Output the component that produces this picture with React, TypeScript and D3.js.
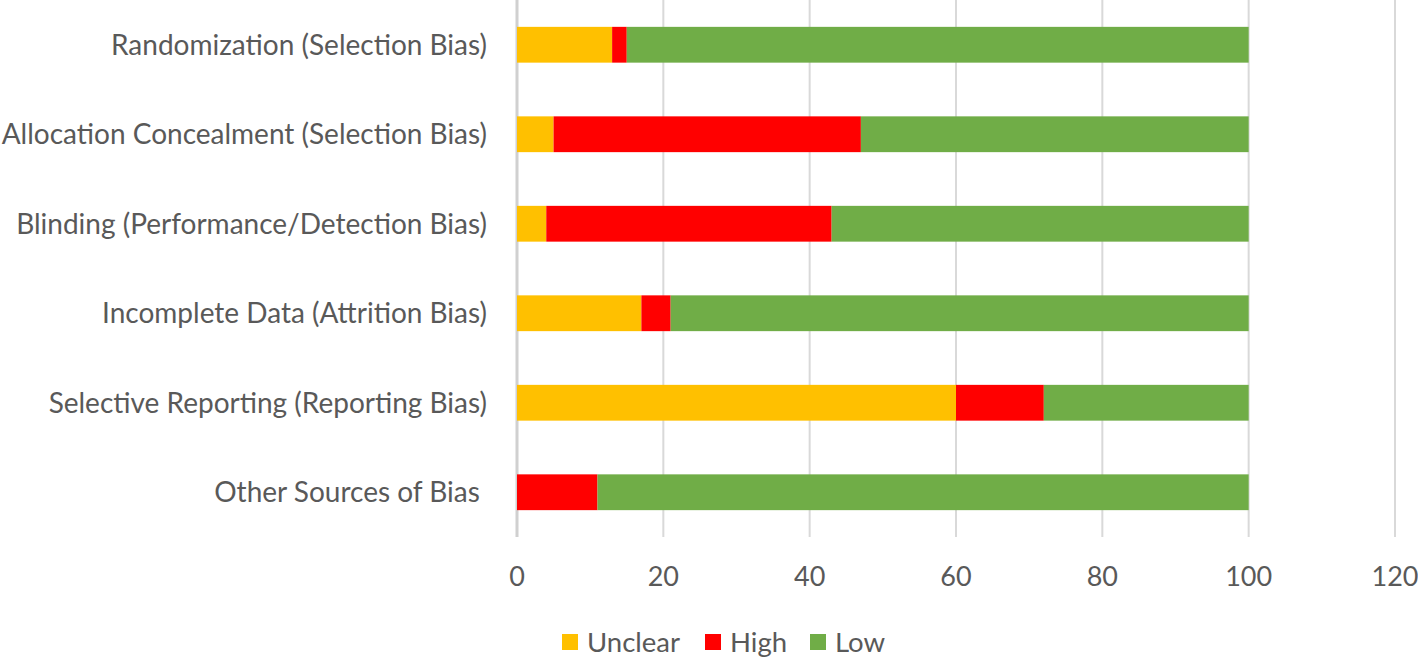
import React from "react";
import * as d3 from "d3";

const categories = [
  "Randomization (Selection Bias)",
  "Allocation Concealment (Selection Bias)",
  "Blinding (Performance/Detection Bias)",
  "Incomplete Data (Attrition Bias)",
  "Selective Reporting (Reporting Bias)",
  "Other Sources of Bias ",
];
const seriesNames = ["Unclear", "High", "Low"];
const unclear = [13, 5, 4, 17, 60, 0];
const high = [2, 42, 39, 4, 12, 11];
const low = [85, 53, 57, 79, 28, 89];
const xTicks = [0, 20, 40, 60, 80, 100, 120];
const colors = ["#FFC000", "#FF0000", "#70AD47"];

const W = 1418;
const H = 657;
const FONT = "Lato, 'Open Sans', sans-serif";

export default function App() {
  const x = d3.scaleLinear().domain([0, 120]).range([517, 1395]);
  const y = d3.scaleBand().domain(categories).range([0, 537]).paddingInner(0.6).paddingOuter(0.3);
  const rows = categories.map((c, i) => ({ c, vals: [unclear[i], high[i], low[i]] }));
  const stack = d3.stack<any>().keys(["0", "1", "2"]).value((d: any, k: string) => d.vals[+k]);
  const layers = stack(rows as any);
  const legendItems = [
    { x: 562 },
    { x: 705 },
    { x: 810 },
  ];
  return (
    <svg width={W} height={H} style={{ position: "absolute", left: 0, top: 0 }} fontFamily={FONT}>
      {xTicks.map((t) => (
        <line key={t} x1={x(t)} x2={x(t)} y1={0} y2={537} stroke={t === 0 ? "#d0d0d0" : "#d9d9d9"} strokeWidth={t === 0 ? 3 : 2} />
      ))}
      {layers.map((layer, li) =>
        layer.map((d, i) => (
          <rect key={`${li}-${i}`} x={x(d[0])} y={y(categories[i])!} width={Math.max(0, x(d[1]) - x(d[0]))} height={y.bandwidth()} fill={colors[li]} />
        ))
      )}
      {categories.map((c) => (
        <text key={c} x={487} y={y(c)! + y.bandwidth() / 2} dy="0.35em" textAnchor="end" fontSize={28} fill="#595959" style={{ whiteSpace: "pre" }}>
          {c}
        </text>
      ))}
      {xTicks.map((t) => (
        <text key={t} x={x(t)} y={577} dy="0.35em" textAnchor="middle" fontSize={27} fill="#595959">
          {t}
        </text>
      ))}
      {seriesNames.map((s, i) => (
        <g key={s}>
          <rect x={legendItems[i].x} y={634} width={16} height={16} fill={colors[i]} />
          <text x={legendItems[i].x + 25} y={642} dy="0.35em" fontSize={27.5} fill="#595959">
            {s}
          </text>
        </g>
      ))}
    </svg>
  );
}
